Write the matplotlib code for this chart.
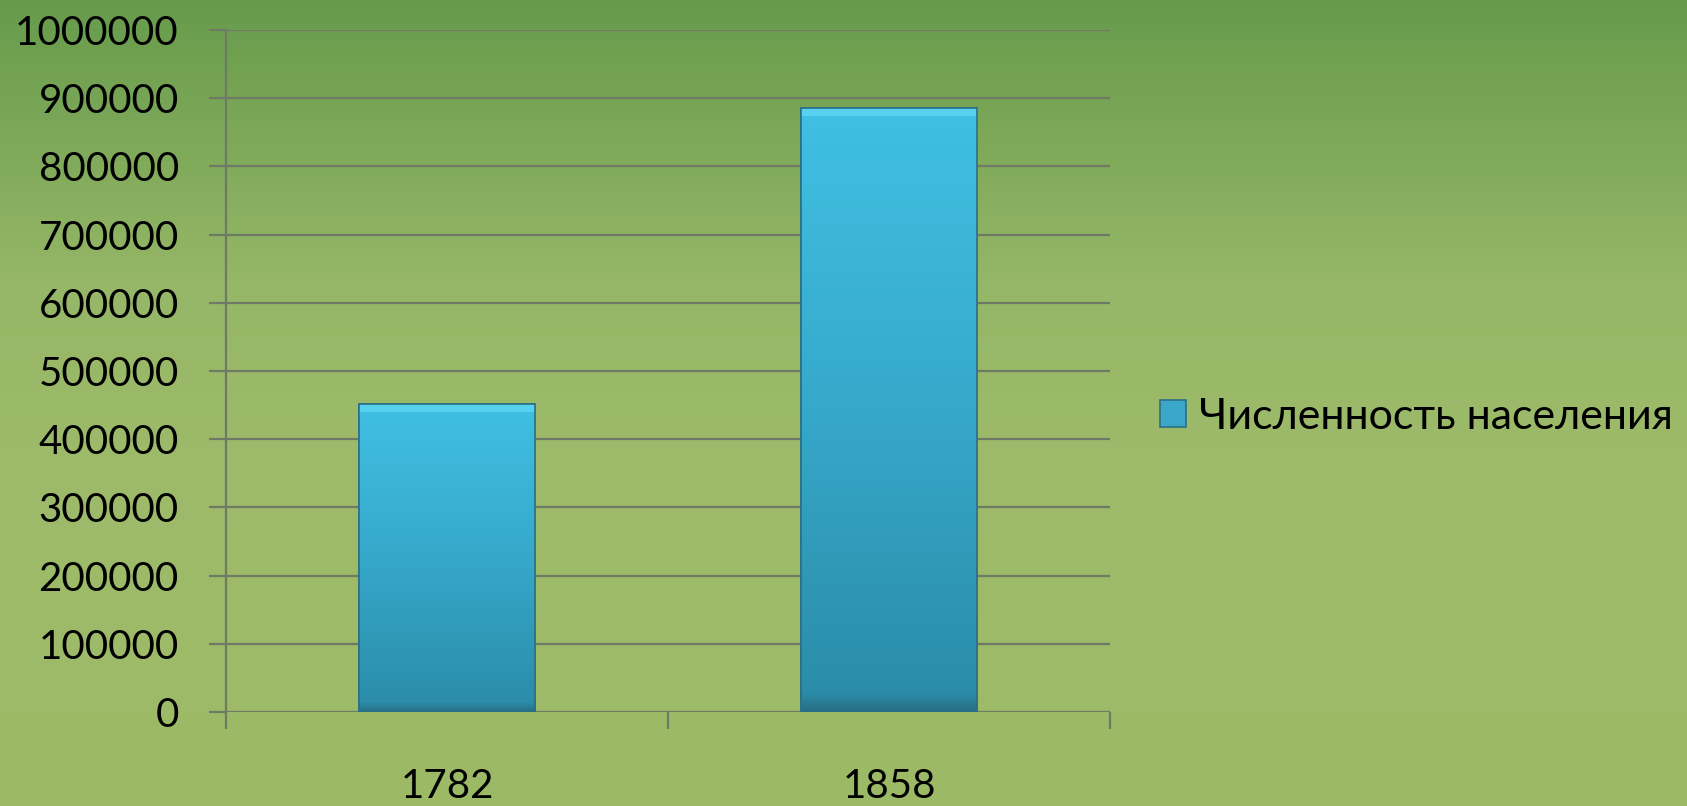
import numpy as np
import matplotlib
matplotlib.use("Agg")
import matplotlib.pyplot as plt
from matplotlib.colors import LinearSegmentedColormap
from matplotlib.patches import Patch

categories = ["1782", "1858"]
values = [452000, 886000]
series_name = "Численность населения"
yticks = list(range(0, 1000001, 100000))

plt.rcParams['font.family'] = ['Lato', 'DejaVu Sans']

W, H, DPI = 1687, 806, 100
fig = plt.figure(figsize=(W / DPI, H / DPI), dpi=DPI)

# background gradient
bg = fig.add_axes([0, 0, 1, 1], zorder=-10)
bg_cmap = LinearSegmentedColormap.from_list(
    "bg", [(0.0, "#669b4b"), (0.35, "#95b767"), (0.55, "#9cba6a"), (1.0, "#9cbb66")])
grad = np.linspace(0, 1, 256).reshape(-1, 1)
bg.imshow(grad, aspect="auto", cmap=bg_cmap, extent=[0, 1, 1, 0], origin="upper")
bg.set_axis_off()

ax = fig.add_axes([226 / W, 1 - 712 / H, (1110 - 226) / W, (712 - 30) / H])
ax.patch.set_alpha(0)

x = np.arange(len(categories))
bars = ax.bar(x, values, width=0.4, color="#38aed2", edgecolor="#2a7085",
              linewidth=1.2, zorder=3)

bar_cmap = LinearSegmentedColormap.from_list(
    "bar", [(0.0, "#276f86"), (0.03, "#2b8da9"), (0.5, "#36a8ca"), (1.0, "#40c0e4")])
vgrad = np.linspace(0, 1, 256).reshape(-1, 1)
for b in bars:
    x0, y0 = b.get_x(), b.get_y()
    w, h = b.get_width(), b.get_height()
    im = ax.imshow(vgrad, aspect="auto", cmap=bar_cmap, origin="lower",
                   extent=[x0, x0 + w, y0, y0 + h], zorder=3.5)
    im.set_clip_path(b)
    # top highlight bevel
    ax.fill_between([x0, x0 + w], y0 + h - 12000, y0 + h, color="#6fe3f8",
                    alpha=0.5, zorder=3.6, linewidth=0)
    ax.add_patch(plt.Rectangle((x0, y0), w, h, fill=False, edgecolor="#2a7085",
                               linewidth=1.2, zorder=3.7))

ax.set_xlim(-0.5, len(categories) - 0.5)
ax.set_ylim(0, 1000000)
ax.set_yticks(yticks)
ax.set_yticklabels([str(v) for v in yticks])
ax.set_xticks(x)
ax.set_xticklabels(categories)
ax.set_xticks([-0.5, 0.5, 1.5], minor=True)

grid_col = "#6f7a66"
ax.yaxis.grid(True, color=grid_col, linewidth=1.6, zorder=1)
ax.set_axisbelow(True)
for s in ["top", "right", "bottom"]:
    ax.spines[s].set_visible(False)
ax.spines["left"].set_color(grid_col)
ax.spines["left"].set_linewidth(1.6)

ax.tick_params(axis="y", length=12, width=1.6, color=grid_col, pad=22,
               labelsize=29, labelcolor="black")
ax.tick_params(axis="x", which="major", length=0, pad=40, labelsize=29,
               labelcolor="black")
ax.tick_params(axis="x", which="minor", length=12, width=1.6, color=grid_col)

handle = Patch(facecolor="#3aa6c8", edgecolor="#2a7085", linewidth=1.2)
fig.legend([handle], [series_name], loc="center left",
           bbox_to_anchor=(1160 / W, 1 - 417 / H), frameon=False,
           fontsize=31, handlelength=0.6, handleheight=0.6,
           handletextpad=0.3, borderaxespad=0, borderpad=0)

fig.savefig("out.png", dpi=DPI)
